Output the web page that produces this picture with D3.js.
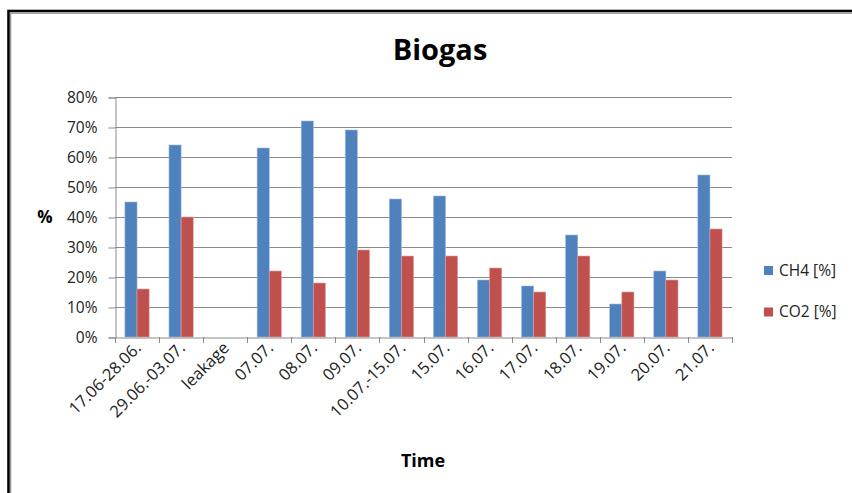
<!DOCTYPE html>
<html>
<head>
<meta charset="utf-8">
<script src="https://cdn.jsdelivr.net/npm/d3@7"></script>
<style>
  html, body { margin: 0; padding: 0; background: #fff; }
  svg { display: block; font-family: "Open Sans", "Liberation Sans", sans-serif; }
</style>
</head>
<body>
<svg id="chart" width="852" height="493"></svg>
<script>
// Biogas composition per sampling period
const categories = ["17.06-28.06.", "29.06.-03.07.", "leakage", "07.07.", "08.07.", "09.07.",
  "10.07.-15.07.", "15.07.", "16.07.", "17.07.", "18.07.", "19.07.", "20.07.", "21.07."];
const seriesNames = ["CH4 [%]", "CO2 [%]"];
const ch4 = [45, 64, 0, 63, 72, 69, 46, 47, 19, 17, 34, 11, 22, 54];
const co2 = [16, 40, 0, 22, 18, 29, 27, 27, 23, 15, 27, 15, 19, 36];
const yTicks = [0, 10, 20, 30, 40, 50, 60, 70, 80];
const colors = ["#4f81bd", "#c0504d"];
const edgeColors = ["#9db9dd", "#e0a09e"];

const svg = d3.select("#chart");
const W = 852, H = 493;
const plot = { left: 115, right: 732, top: 97, bottom: 337 };

// Outer chart frame (dark edge with grey inner line)
svg.append("rect").attr("x", 8.5).attr("y", 11).attr("width", W + 20).attr("height", H + 20)
  .attr("fill", "none").attr("stroke", "#000").attr("stroke-width", 2.6);
svg.append("rect").attr("x", 10.6).attr("y", 13.2).attr("width", W + 20).attr("height", H + 20)
  .attr("fill", "none").attr("stroke", "#9a9a9a").attr("stroke-width", 1.4);

const x0 = d3.scaleBand().domain(categories).range([plot.left, plot.right]).paddingInner(0).paddingOuter(0);
const x1 = d3.scaleBand().domain(seriesNames).range([x0.step() * 0.225, x0.step() * 0.775]);
const y = d3.scaleLinear().domain([0, 80]).range([plot.bottom, plot.top]);

// Horizontal gridlines
svg.append("g").selectAll("line").data(yTicks.filter(t => t > 0)).join("line")
  .attr("x1", plot.left).attr("x2", plot.right)
  .attr("y1", d => Math.round(y(d)) + 0.5).attr("y2", d => Math.round(y(d)) + 0.5)
  .attr("stroke", "#8a8a8a").attr("stroke-width", 1);

// Y axis
const yAxis = svg.append("g").attr("transform", `translate(${plot.left + 0.5},0.5)`)
  .call(d3.axisLeft(y).tickValues(yTicks).tickFormat(d => d + "%").tickSize(7).tickPadding(11));
yAxis.select(".domain").attr("stroke", "#8a8a8a");
yAxis.selectAll(".tick line").attr("stroke", "#8a8a8a");
yAxis.selectAll(".tick text").attr("font-size", 15.5).attr("fill", "#222")
  .attr("font-family", "'Open Sans', sans-serif");

// Bars
const groups = svg.append("g").selectAll("g").data(categories).join("g")
  .attr("transform", d => `translate(${x0(d)},0)`);
groups.selectAll("rect").data((d, i) => [
  { s: seriesNames[0], v: ch4[i], k: 0 },
  { s: seriesNames[1], v: co2[i], k: 1 }
]).join("rect")
  .attr("x", d => x1(d.s))
  .attr("width", x1.bandwidth())
  .attr("y", d => y(d.v))
  .attr("height", d => y(0) - y(d.v))
  .attr("fill", d => colors[d.k])
  .attr("stroke", d => d.v > 0 ? edgeColors[d.k] : "none")
  .attr("stroke-width", 0.6);

// X axis
const xAxis = svg.append("g").attr("transform", `translate(0,${plot.bottom + 0.5})`)
  .call(d3.axisBottom(x0).tickSize(0).tickFormat(""));
xAxis.select(".domain").attr("stroke", "#8a8a8a");
// category boundary ticks
svg.append("g").selectAll("line").data(d3.range(categories.length + 1)).join("line")
  .attr("x1", i => Math.round(plot.left + i * x0.step()) + 0.5)
  .attr("x2", i => Math.round(plot.left + i * x0.step()) + 0.5)
  .attr("y1", plot.bottom).attr("y2", plot.bottom + 6)
  .attr("stroke", "#8a8a8a");

// Rotated category labels
svg.append("g").selectAll("text").data(categories).join("text")
  .attr("transform", d => `translate(${x0(d) + x0.bandwidth() / 2 + 5},${plot.bottom + 12}) rotate(-45)`)
  .attr("text-anchor", "end")
  .attr("font-size", 16.5)
  .attr("fill", "#222")
  .text(d => d);

// Title
svg.append("text").attr("x", 440).attr("y", 60).attr("text-anchor", "middle")
  .attr("font-size", 29).attr("font-weight", "bold").attr("fill", "#000").text("Biogas");

// Axis titles
svg.append("text").attr("x", 45).attr("y", 223).attr("text-anchor", "middle")
  .attr("font-size", 17).attr("font-weight", "bold").attr("fill", "#000").text("%");
svg.append("text").attr("x", 423).attr("y", 467).attr("text-anchor", "middle")
  .attr("font-size", 18).attr("font-weight", "bold").attr("fill", "#000").text("Time");

// Legend
const legend = svg.append("g").selectAll("g").data(seriesNames).join("g")
  .attr("transform", (d, i) => `translate(764,${266 + i * 41.5})`);
legend.append("rect").attr("width", 9).attr("height", 9).attr("fill", (d, i) => colors[i]);
legend.append("text").attr("x", 15).attr("y", 9.5).attr("font-size", 15.5).attr("fill", "#222").text(d => d);
</script>
</body>
</html>
